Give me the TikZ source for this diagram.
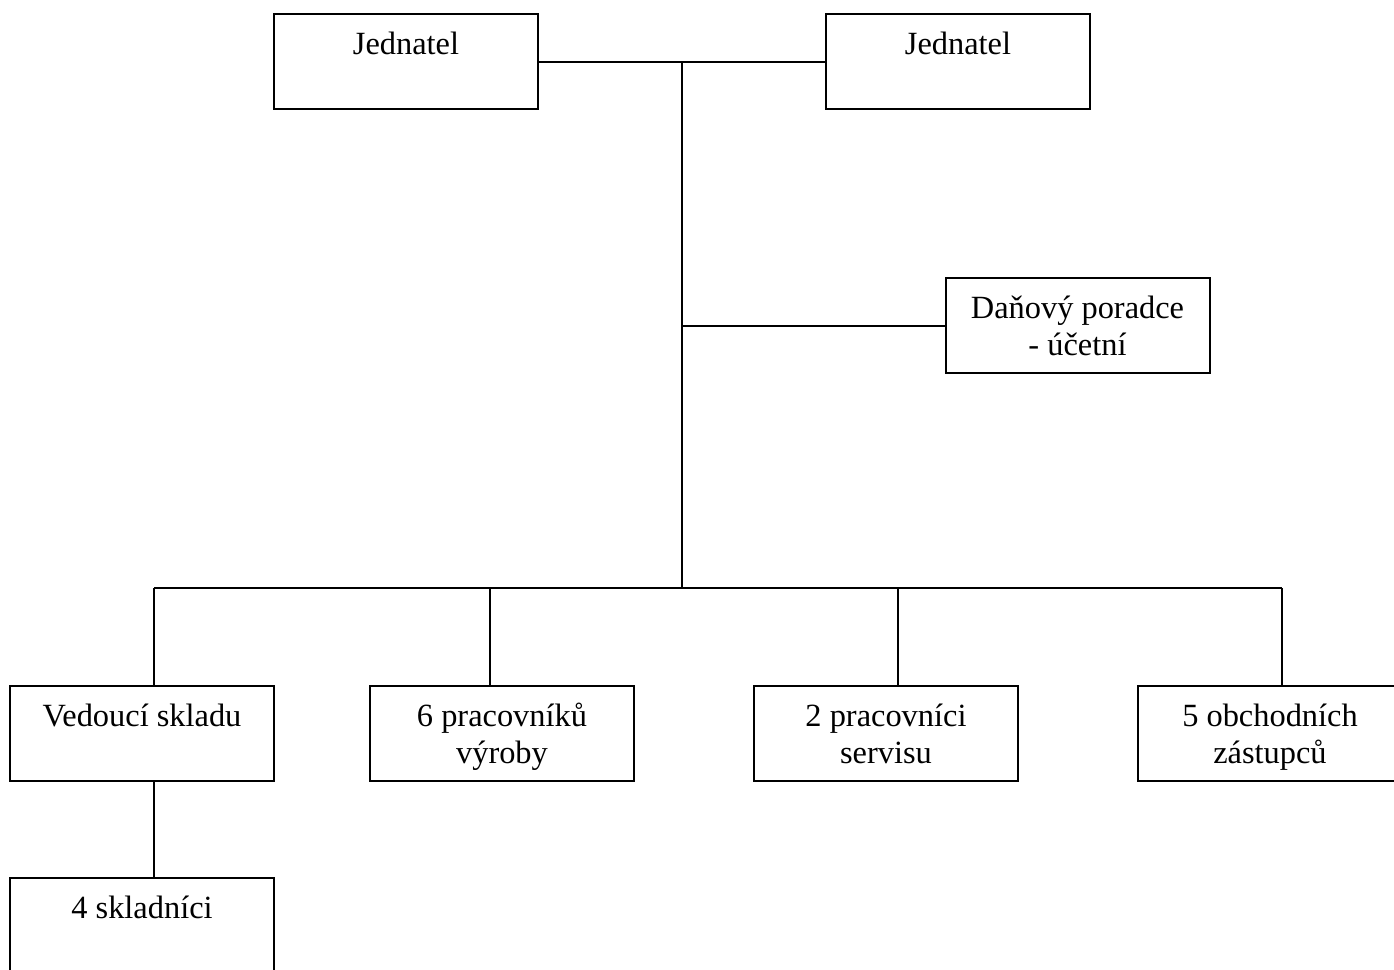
\documentclass[tikz,border=0pt]{standalone}
\usepackage{fontspec}
\setmainfont{Liberation Serif}
\usepackage{tikz}
\usetikzlibrary{positioning, calc}
\newcommand\firstline{\rule{0pt}{17.4pt}}

\begin{document}
\begin{tikzpicture}[
    x=0.5pt, y=-0.5pt,
    line width=1pt,
    unit/.style={draw, minimum width=132pt, minimum height=47.5pt, inner sep=0pt, align=center, font=\fontsize{16.2}{18.5}\selectfont}
]
    \useasboundingbox (0,0) rectangle (1394,970);
    % vedeni
    \node[unit] (j1) at (406,61.5) {\firstline Jednatel\\\strut};
    \node[unit] (j2) at (958,61.5) {\firstline Jednatel\\\strut};
    \node[unit] (dan) at (1077.5,325.5) {\firstline Daňový poradce\\\strut - účetní};
    % utvary
    \node[unit] (ved) at (142,733.5) {\firstline Vedoucí skladu\\\strut};
    \node[unit] (vyr) at (502,733.5) {\firstline 6 pracovníků\\\strut výroby};
    \node[unit] (ser) at (886,733.5) {\firstline 2 pracovníci\\\strut servisu};
    \node[unit] (obch) at (1270,733.5) {\firstline 5 obchodních\\\strut zástupců};
    \node[unit] (skl) at (142,925.5) {\firstline 4 skladníci\\\strut};
    % spoje
    \coordinate (top) at (682,62);
    \coordinate (bus) at (682,588);
    \coordinate (b1) at (154,588);
    \coordinate (b2) at (490,588);
    \coordinate (b3) at (898,588);
    \coordinate (b4) at (1282,588);
    \draw (j1.east) -- (j2.west);
    \draw (top) -- (bus);
    \draw (dan.west -| top) -- (dan.west);
    \draw (b1) -- (b4);
    \draw (b1) -- (b1 |- ved.north);
    \draw (b2) -- (b2 |- vyr.north);
    \draw (b3) -- (b3 |- ser.north);
    \draw (b4) -- (b4 |- obch.north);
    \draw (b1 |- ved.south) -- (b1 |- skl.north);
\end{tikzpicture}
\end{document}
